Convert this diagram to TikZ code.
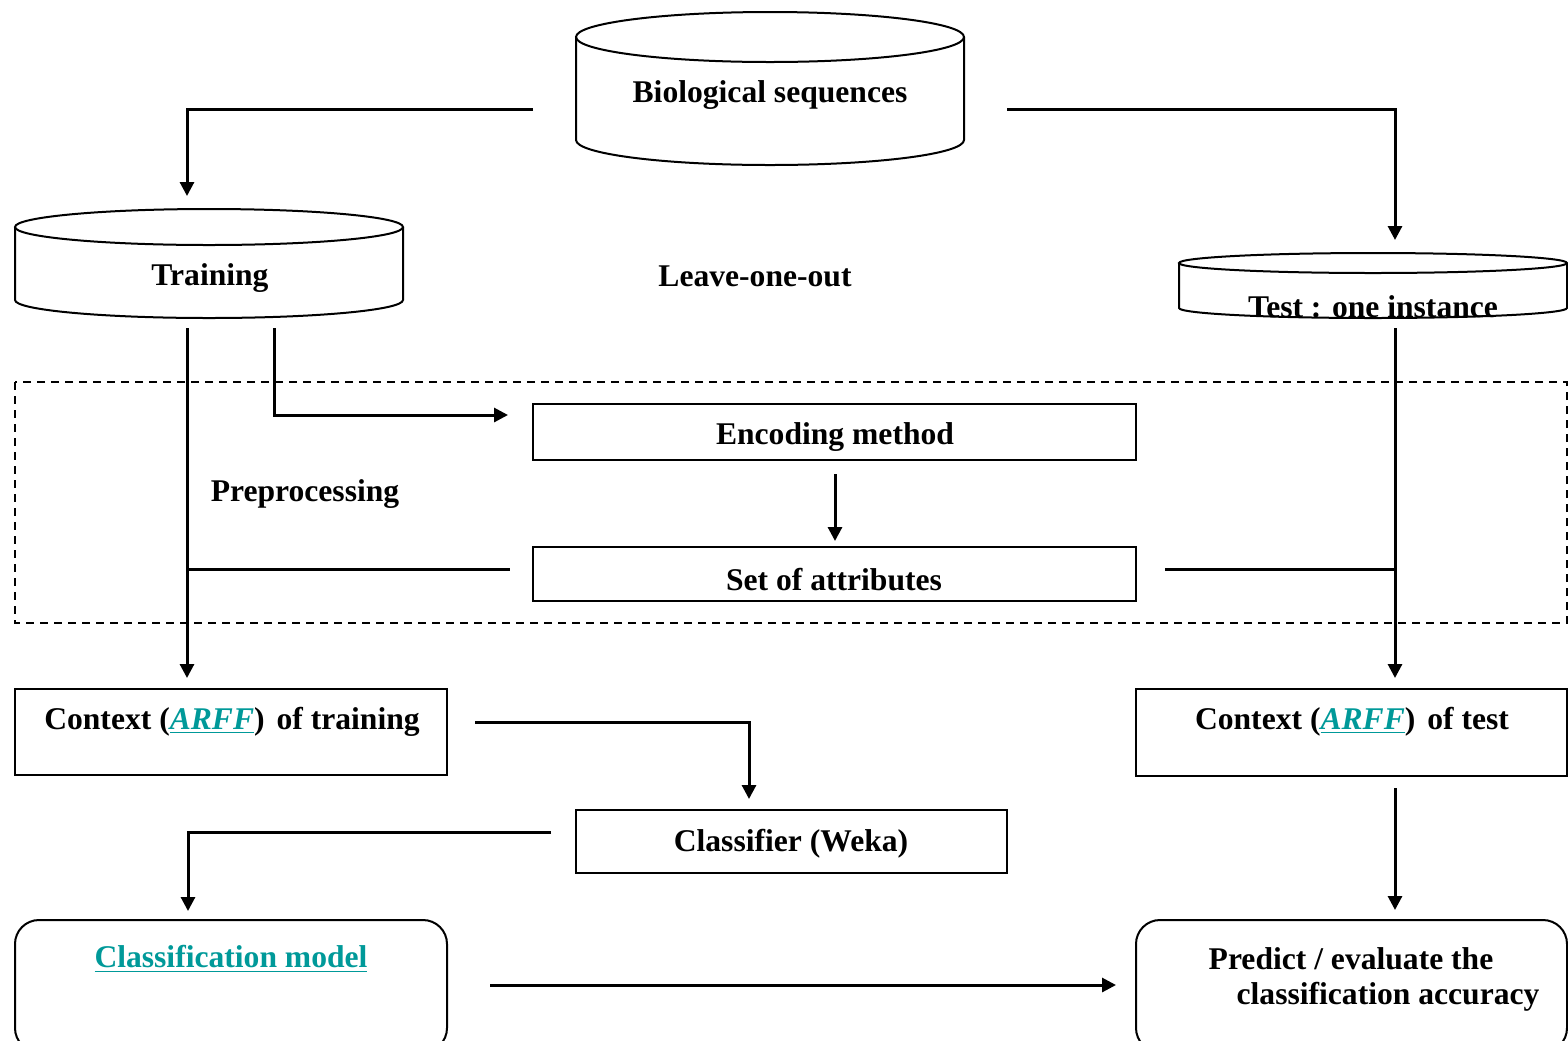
\documentclass[tikz,border=0pt]{standalone}
\usepackage{fontspec}
\setmainfont{Liberation Serif}
\usetikzlibrary{arrows.meta}
\definecolor{linkteal}{RGB}{0,153,153}
\begin{document}
\begin{tikzpicture}[x=0.5pt,y=-0.5pt,
  lbl/.style={font=\fontsize{15.8}{19}\selectfont\bfseries, inner sep=0pt},
  shapeline/.style={draw, line width=1pt},
  box/.style={shapeline, inner sep=0pt},
  conn/.style={line width=1.5pt},
  arr/.style={conn, -{Triangle[length=7pt,width=7pt]}}]
\useasboundingbox (0,0) rectangle (1568,1040);

% cylinders
\draw[shapeline] (770,37) ellipse [x radius=194, y radius=25];
\draw[shapeline] (576,37) -- (576,140) arc[start angle=180, end angle=0, x radius=194, y radius=25] -- (964,37);
\node[lbl] (bio) at (770,95) {Biological sequences};

\draw[shapeline] (209,227) ellipse [x radius=194, y radius=18];
\draw[shapeline] (15,227) -- (15,300) arc[start angle=180, end angle=0, x radius=194, y radius=18] -- (403,227);
\node[lbl] (train) at (210,278) {Training};

\draw[shapeline] (1373,263) ellipse [x radius=194, y radius=10];
\draw[shapeline] (1179,263) -- (1179,308) arc[start angle=180, end angle=0, x radius=194, y radius=10] -- (1567,263);
\node[lbl] (test) at (1373,307) {Test : one instance};

\node[lbl] (loo) at (755,276) {Leave-one-out};

% preprocessing frame
\draw[line width=1pt, dash pattern=on 4pt off 3pt] (15,382) rectangle (1567,623);
\node[lbl] (prep) at (305,494) {Preprocessing};

\node[box, minimum width=301.5pt, minimum height=28pt] (enc) at (834.5,432) {};
\node[lbl] at (835,437) {Encoding method};
\node[box, minimum width=301.5pt, minimum height=27pt] (set) at (834.5,574) {};
\node[lbl] at (834,580) {Set of attributes};

% contexts
\node[box, minimum width=216pt, minimum height=43pt] (ctxtr) at (231,732) {};
\node[lbl] at (232,722) {Context (\textcolor{linkteal}{\underline{\textit{ARFF}}})\hspace{6pt}of training};
\node[box, minimum width=215.5pt, minimum height=43.5pt] (ctxte) at (1351.5,732.5) {};
\node[lbl] at (1352,722) {Context (\textcolor{linkteal}{\underline{\textit{ARFF}}})\hspace{6pt}of test};

\node[box, minimum width=215.5pt, minimum height=31.5pt] (cls) at (791.5,841.5) {};
\node[lbl] at (791,844) {Classifier (Weka)};

% bottom rounded boxes
\draw[shapeline, rounded corners=12pt] (15,920) rectangle (447,1052);
\coordinate (model) at (231,920);
\node[lbl, text=linkteal] at (231,959) {\underline{Classification model}};
\draw[shapeline, rounded corners=12pt] (1136,920) rectangle (1567,1052);
\coordinate (pred) at (1395,920);
\node[lbl] at (1351,959) {Predict / evaluate the};
\node[lbl] at (1388,997) {classification accuracy};

% connectors
\coordinate (bioL) at (533,109);
\coordinate (bioR) at (1007,109);
\coordinate (trainIn) at (187,196);
\coordinate (testIn) at (1395,240);
\draw[arr] (bioL) -| (trainIn);
\draw[arr] (bioR) -| (testIn);

\coordinate (trA) at (187,328);
\coordinate (trB) at (274,328);
\coordinate (encIn) at (508,415);
\draw[arr] (trA) -- (187,678);
\draw[arr] (trB) |- (encIn);
\draw[arr] (835,474) -- (835,541);
\draw[conn] (187,569) -- (510,569);
\draw[conn] (1165,569) -- (1395,569);
\coordinate (teA) at (1395,328);
\draw[arr] (teA) -- (1395,678);

\coordinate (ctxtrR) at (475,722);
\draw[arr] (ctxtrR) -| (749,799);
\coordinate (clsL) at (551,832);
\draw[arr] (clsL) -| (188,911);
\draw[arr] (490,985) -- (1116,985);
\draw[arr] (1395,788) -- (1395,910);
\end{tikzpicture}
\end{document}
